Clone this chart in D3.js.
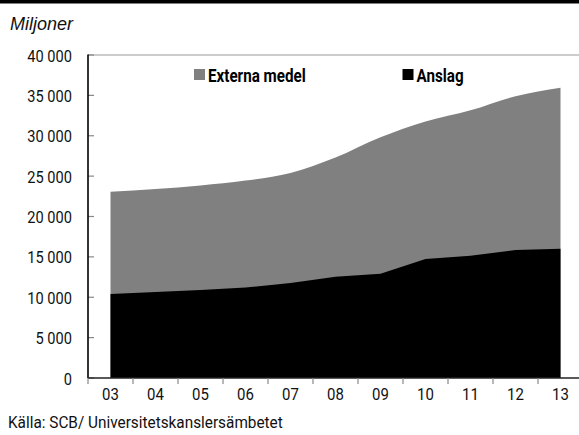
<!DOCTYPE html>
<html><head><meta charset="utf-8">
<script src="https://cdn.jsdelivr.net/npm/d3@7"></script>
<style>
body{margin:0;background:#fff;}
svg text{font-family:Roboto,"Liberation Sans",sans-serif;}
</style></head><body>
<svg id="c" width="579" height="435"></svg>
<script>
const years = ["03","04","05","06","07","08","09","10","11","12","13"];
const anslag = [10400,10650,10900,11200,11750,12550,12900,14750,15150,15850,16000];
const totalt = [23050,23400,23850,24450,25400,27300,29800,31750,33150,34900,35950];
const yTicks = [0,5000,10000,15000,20000,25000,30000,35000,40000];
const seriesNames = ["Externa medel","Anslag"];
const seriesColors = ["#808080","#000000"];

const svg = d3.select("#c");
const L=88, R=579, T=55, B=378;
const x = d3.scaleBand().domain(years).range([L, L+45*11]);
const xc = d => x(d)+x.bandwidth()/2;
const y = d3.scaleLinear().domain([0,40000]).range([B,T]);

// condensed text helper (horizontal squeeze)
function ctext(parent, tx, ty, str, opts){
  const sx = opts.sx || 0.86;
  const t = parent.append("text")
    .attr("transform", `translate(${tx},${ty}) scale(${sx},1)`)
    .attr("font-size", opts.size || 17)
    .attr("fill", opts.fill || "#111")
    .attr("text-anchor", opts.anchor || "start")
    .text(str);
  if (opts.weight) t.attr("font-weight", opts.weight);
  if (opts.style) t.attr("font-style", opts.style);
  if (opts.family) t.style("font-family", opts.family);
  return t;
}

svg.append("rect").attr("x",0).attr("y",0).attr("width",579).attr("height",3.5).attr("fill","#000");

// top gridline
svg.append("line").attr("x1",L).attr("x2",R).attr("y1",T).attr("y2",T).attr("stroke","#999").attr("stroke-width",1.2);

const totalArea = d3.area().x((d,i)=>xc(years[i])).y0(y(0)).y1(d=>y(d)).curve(d3.curveMonotoneX);
const anslagArea = d3.area().x((d,i)=>xc(years[i])).y0(y(0)).y1(d=>y(d)).curve(d3.curveLinear);
svg.append("path").datum(totalt).attr("d",totalArea).attr("fill",seriesColors[0]);
svg.append("path").datum(anslag).attr("d",anslagArea).attr("fill",seriesColors[1]);

// y axis
const fmt = v => v===0 ? "0" : d3.format(",")(v).replace(/,/g," ");
const gy = svg.append("g");
yTicks.forEach(v=>{
  gy.append("line").attr("x1",L).attr("x2",L+6).attr("y1",y(v)).attr("y2",y(v)).attr("stroke","#888").attr("stroke-width",1.2);
  ctext(gy, 72, y(v)+6.5, fmt(v), {size:17, anchor:"end", sx:0.86});
});
svg.append("line").attr("x1",L).attr("x2",L).attr("y1",T-0.6).attr("y2",B).attr("stroke","#000").attr("stroke-width",1.6);

// x axis
svg.append("line").attr("x1",L).attr("x2",R).attr("y1",B).attr("y2",B).attr("stroke","#222").attr("stroke-width",1.3);
const gx = svg.append("g");
years.forEach(yr=>{
  gx.append("line").attr("x1",x(yr)).attr("x2",x(yr)).attr("y1",B).attr("y2",B+6).attr("stroke","#888").attr("stroke-width",1.2);
  ctext(gx, xc(yr), B+22, yr, {size:17, anchor:"middle", sx:0.88});
});
gx.append("line").attr("x1",x(years[10])+45).attr("x2",x(years[10])+45).attr("y1",B).attr("y2",B+6).attr("stroke","#888");

// legend
const legX = [194, 402.5];
seriesNames.forEach((n,i)=>{
  svg.append("rect").attr("x",legX[i]).attr("y",69).attr("width",11).attr("height",11).attr("fill",seriesColors[i]);
  ctext(svg, legX[i]+14, 81.5, n, {size:19, weight:"bold", fill:"#000", sx:0.80});
});

svg.append("text").attr("x",10).attr("y",29.5).attr("font-size",18).attr("font-style","italic").attr("fill","#111")
  .style("font-family","'Liberation Sans',Arial,sans-serif").text("Miljoner");
ctext(svg, 8, 428, "Källa: SCB/ Universitetskanslersämbetet", {size:16.5, sx:0.93});
</script></body></html>
